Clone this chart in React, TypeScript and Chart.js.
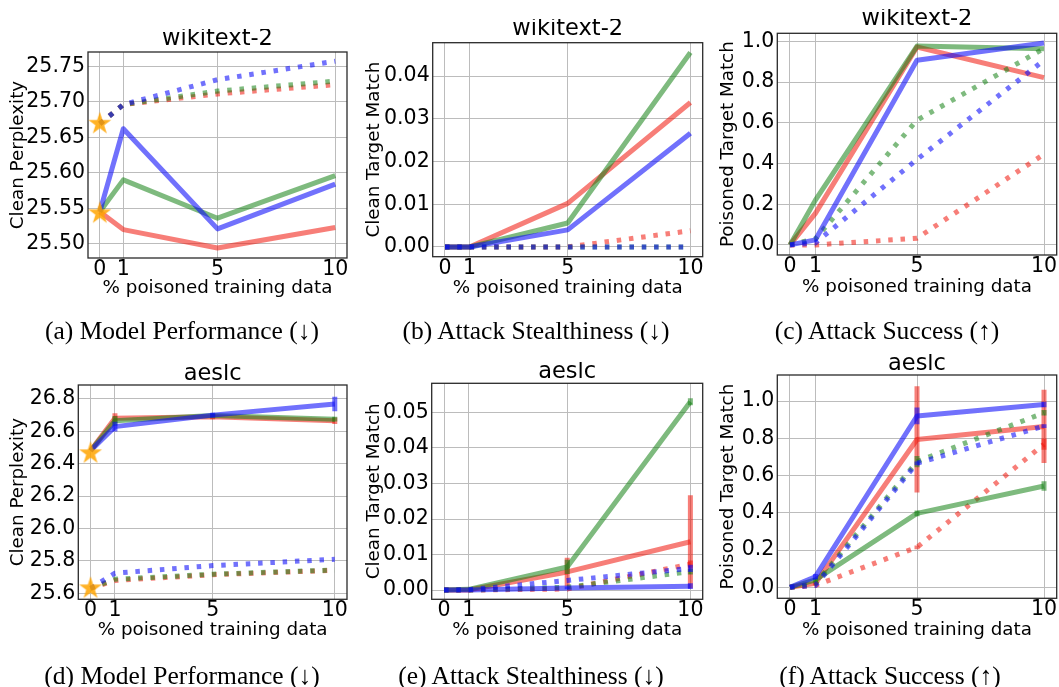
import React, { useEffect, useRef } from 'react';
import { Chart, registerables } from 'chart.js';
Chart.register(...registerables);

// ---------------- data ----------------
const X_VALUES = [0, 1, 5, 10];
const X_TICKS = [0, 1, 5, 10];
const X_LABEL = '% poisoned training data';

// (a) wikitext-2, Clean Perplexity
const A_RED = [25.545, 25.52, 25.494, 25.523];
const A_GREEN = [25.545, 25.59, 25.536, 25.596];
const A_BLUE = [25.545, 25.662, 25.521, 25.584];
const A_RED_DOT = [25.669, 25.696, 25.711, 25.724];
const A_GREEN_DOT = [25.669, 25.696, 25.715, 25.729];
const A_BLUE_DOT = [25.669, 25.696, 25.731, 25.757];
const A_STARS = [25.669, 25.543];
const A_YTICKS = [25.5, 25.55, 25.6, 25.65, 25.7, 25.75];

// (b) wikitext-2, Clean Target Match
const B_RED = [0, 0, 0.0102, 0.0338];
const B_GREEN = [0, 0, 0.0056, 0.0455];
const B_BLUE = [0, 0, 0.004, 0.0266];
const B_RED_DOT = [0, 0, 0, 0.0038];
const B_GREEN_DOT = [0, 0, 0, 0];
const B_BLUE_DOT = [0, 0, 0, 0];
const B_YTICKS = [0, 0.01, 0.02, 0.03, 0.04];

// (c) wikitext-2, Poisoned Target Match
const C_RED = [0, 0.155, 0.972, 0.822];
const C_GREEN = [0, 0.22, 0.977, 0.964];
const C_BLUE = [0, 0.025, 0.907, 0.992];
const C_RED_DOT = [0, 0, 0.033, 0.446];
const C_GREEN_DOT = [0, 0.03, 0.613, 0.965];
const C_BLUE_DOT = [0, 0.01, 0.42, 0.907];
const C_YTICKS = [0, 0.2, 0.4, 0.6, 0.8, 1.0];

// (d) aeslc, Clean Perplexity
const D_RED = [26.48, 26.681, 26.69, 26.665];
const D_GREEN = [26.48, 26.665, 26.697, 26.675];
const D_BLUE = [26.48, 26.629, 26.7, 26.769];
const D_RED_ERR = [0, 0.03, 0.015, 0.02];
const D_GREEN_ERR = [0, 0.03, 0.01, 0.015];
const D_BLUE_ERR = [0, 0.03, 0.015, 0.045];
const D_RED_DOT = [25.631, 25.679, 25.715, 25.742];
const D_GREEN_DOT = [25.631, 25.687, 25.718, 25.744];
const D_BLUE_DOT = [25.631, 25.724, 25.771, 25.81];
const D_STARS = [26.465, 25.631];
const D_YTICKS = [25.6, 25.8, 26.0, 26.2, 26.4, 26.6, 26.8];

// (e) aeslc, Clean Target Match
const E_RED = [0, 0, 0.0051, 0.0136];
const E_RED_ERR = [0, 0, 0.004, 0.0131];
const E_GREEN = [0, 0.0002, 0.0065, 0.053];
const E_GREEN_ERR = [0, 0, 0.002, 0.001];
const E_BLUE = [0, 0, 0.0006, 0.0011];
const E_BLUE_ERR = [0, 0, 0.0004, 0.0008];
const E_RED_DOT = [0, 0, 0.0003, 0.0073];
const E_RED_DOT_ERR = [0, 0, 0, 0.001];
const E_GREEN_DOT = [0, 0, 0.0008, 0.0052];
const E_GREEN_DOT_ERR = [0, 0, 0, 0.0008];
const E_BLUE_DOT = [0, 0.0001, 0.0027, 0.0061];
const E_BLUE_DOT_ERR = [0, 0, 0, 0.001];
const E_YTICKS = [0, 0.01, 0.02, 0.03, 0.04, 0.05];

// (f) aeslc, Poisoned Target Match
const F_RED = [0, 0.021, 0.794, 0.864];
const F_RED_ERR = [0, 0.01, 0.285, 0.197];
const F_GREEN = [0, 0.04, 0.397, 0.544];
const F_GREEN_ERR = [0, 0.01, 0.015, 0.025];
const F_BLUE = [0, 0.057, 0.92, 0.982];
const F_BLUE_ERR = [0, 0.015, 0.045, 0.015];
const F_RED_DOT = [0, 0.01, 0.215, 0.768];
const F_RED_DOT_ERR = [0, 0, 0.01, 0.03];
const F_GREEN_DOT = [0, 0.02, 0.675, 0.937];
const F_GREEN_DOT_ERR = [0, 0, 0.03, 0.015];
const F_BLUE_DOT = [0, 0.01, 0.666, 0.866];
const F_BLUE_DOT_ERR = [0, 0, 0.01, 0.01];
const F_YTICKS = [0, 0.2, 0.4, 0.6, 0.8, 1.0];

// ---------------- styles ----------------
const COLORS: Record<string, string> = {
  red: 'rgba(240,20,10,0.55)',
  green: 'rgba(20,130,20,0.55)',
  blue: 'rgba(10,10,250,0.58)',
};
const STAR_COLOR = 'rgba(255,165,0,0.85)';
const SANS = "'DejaVu Sans', sans-serif";
const SERIF = "'Liberation Serif', 'DejaVu Serif', serif";
const TITLE_SIZE = 22.5;
const TITLE_LH = 0.9;
const TICK_SIZE = 20.5;
const LABEL_SIZE = 18.3;
const LABEL_LH = 1.2;
const PAD_RIGHT = 12;
const LINE_W = 5;
const DOTS = [4.5, 7.8];

type Series = { color: string; dotted: boolean; values: number[]; errors?: number[] };
type Panel = {
  title: string; ylabel: string; caption: string;
  yMin: number; yMax: number; yTicks: number[]; dec: number;
  series: Series[]; stars?: number[];
  // layout (pixels in page)
  L: number; T: number; R: number; B: number;
  titleCY: number; xTitleCY: number; yTitleCX: number; capX: number; capY: number;
};

const S = (color: string, dotted: boolean, values: number[], errors?: number[]): Series => ({ color, dotted, values, errors });

const PANELS: Panel[] = [
  {
    title: 'wikitext-2', ylabel: 'Clean Perplexity', caption: '(a) Model Performance (↓)',
    yMin: 25.48, yMax: 25.77, yTicks: A_YTICKS, dec: 2, stars: A_STARS,
    series: [S('red', false, A_RED), S('red', true, A_RED_DOT), S('green', false, A_GREEN), S('green', true, A_GREEN_DOT), S('blue', false, A_BLUE), S('blue', true, A_BLUE_DOT)],
    L: 88, T: 52, R: 348, B: 258, titleCY: 38.8, xTitleCY: 288.5, yTitleCX: 18.3, capX: 181.5, capY: 331,
  },
  {
    title: 'wikitext-2', ylabel: 'Clean Target Match', caption: '(b) Attack Stealthiness (↓)',
    yMin: -0.00228, yMax: 0.0478, yTicks: B_YTICKS, dec: 2,
    series: [S('red', false, B_RED), S('red', true, B_RED_DOT), S('green', false, B_GREEN), S('green', true, B_GREEN_DOT), S('blue', false, B_BLUE), S('blue', true, B_BLUE_DOT)],
    L: 432.7, T: 42.7, R: 702.7, B: 256.7, titleCY: 29.2, xTitleCY: 288, yTitleCX: 374, capX: 535.5, capY: 331,
  },
  {
    title: 'wikitext-2', ylabel: 'Poisoned Target Match', caption: '(c) Attack Success (↑)',
    yMin: -0.0495, yMax: 1.0395, yTicks: C_YTICKS, dec: 1,
    series: [S('red', false, C_RED), S('red', true, C_RED_DOT), S('green', false, C_GREEN), S('green', true, C_GREEN_DOT), S('blue', false, C_BLUE), S('blue', true, C_BLUE_DOT)],
    L: 777.3, T: 33.3, R: 1056.7, B: 255, titleCY: 19.2, xTitleCY: 287.5, yTitleCX: 727.5, capX: 886.5, capY: 331,
  },
  {
    title: 'aeslc', ylabel: 'Clean Perplexity', caption: '(d) Model Performance (↓)',
    yMin: 25.563, yMax: 26.886, yTicks: D_YTICKS, dec: 1, stars: D_STARS,
    series: [S('red', false, D_RED, D_RED_ERR), S('red', true, D_RED_DOT), S('green', false, D_GREEN, D_GREEN_ERR), S('green', true, D_GREEN_DOT), S('blue', false, D_BLUE, D_BLUE_ERR), S('blue', true, D_BLUE_DOT)],
    L: 78.3, T: 385, R: 348.3, B: 599.3, titleCY: 373.8, xTitleCY: 629.7, yTitleCX: 18.3, capX: 181.5, capY: 676,
  },
  {
    title: 'aeslc', ylabel: 'Clean Target Match', caption: '(e) Attack Stealthiness (↓)',
    yMin: -0.0026, yMax: 0.0582, yTicks: E_YTICKS, dec: 2,
    series: [S('red', false, E_RED, E_RED_ERR), S('red', true, E_RED_DOT, E_RED_DOT_ERR), S('green', false, E_GREEN, E_GREEN_ERR), S('green', true, E_GREEN_DOT, E_GREEN_DOT_ERR), S('blue', false, E_BLUE, E_BLUE_ERR), S('blue', true, E_BLUE_DOT, E_BLUE_DOT_ERR)],
    L: 431.7, T: 383.3, R: 702.7, B: 599.3, titleCY: 372.2, xTitleCY: 630, yTitleCX: 374, capX: 531, capY: 676,
  },
  {
    title: 'aeslc', ylabel: 'Poisoned Target Match', caption: '(f) Attack Success (↑)',
    yMin: -0.059, yMax: 1.14, yTicks: F_YTICKS, dec: 1,
    series: [S('red', false, F_RED, F_RED_ERR), S('red', true, F_RED_DOT, F_RED_DOT_ERR), S('green', false, F_GREEN, F_GREEN_ERR), S('green', true, F_GREEN_DOT, F_GREEN_DOT_ERR), S('blue', false, F_BLUE, F_BLUE_ERR), S('blue', true, F_BLUE_DOT, F_BLUE_DOT_ERR)],
    L: 777.3, T: 375, R: 1056.7, B: 598.3, titleCY: 363.8, xTitleCY: 630, yTitleCX: 727.5, capX: 890, capY: 676,
  },
];

function geometry(p: Panel) {
  const lhY = LABEL_SIZE * LABEL_LH;
  const titleH = TITLE_SIZE * TITLE_LH;
  const left = Math.round(p.yTitleCX - lhY / 2);
  const top = Math.round(p.titleCY - titleH / 2);
  const right = Math.round(p.R + PAD_RIGHT);
  const bottom = Math.round(p.xTitleCY + lhY / 2);
  return {
    left, top, width: right - left, height: bottom - top,
    yAxisW: p.L - left, xAxisH: bottom - p.B,
    titlePadBottom: Math.max(0, p.T - top - titleH), padRight: right - p.R,
  };
}

function makeStar(R: number, color: string) {
  const c = document.createElement('canvas');
  const size = Math.ceil(2 * R + 2);
  c.width = size; c.height = size;
  const ctx = c.getContext('2d')!;
  const cx = size / 2, cy = size / 2, r = R * 0.381966;
  ctx.beginPath();
  for (let i = 0; i < 10; i++) {
    const ang = -Math.PI / 2 + (i * Math.PI) / 5;
    const rr = i % 2 === 0 ? R : r;
    const x = cx + rr * Math.cos(ang), y = cy + rr * Math.sin(ang);
    if (i === 0) ctx.moveTo(x, y); else ctx.lineTo(x, y);
  }
  ctx.closePath();
  ctx.fillStyle = color;
  ctx.fill();
  return c;
}

const framePlugin = {
  id: 'frame',
  beforeDatasetsDraw(chart: any) {
    const { ctx, chartArea: a } = chart;
    ctx.save();
    ctx.strokeStyle = '#2a2a2a';
    ctx.lineWidth = 1.3;
    ctx.strokeRect(a.left, a.top, a.right - a.left, a.bottom - a.top);
    ctx.restore();
  },
};

const errorBarPlugin = {
  id: 'errbars',
  afterDatasetDraw(chart: any, args: any) {
    const ds = chart.data.datasets[args.index];
    if (!ds.errors) return;
    const { ctx, chartArea: a } = chart;
    const xs = chart.scales.x, ys = chart.scales.y;
    ctx.save();
    ctx.beginPath();
    ctx.rect(a.left, a.top, a.right - a.left, a.bottom - a.top);
    ctx.clip();
    ctx.strokeStyle = ds.borderColor;
    ctx.lineWidth = LINE_W;
    ctx.setLineDash([]);
    ds.data.forEach((pt: any, i: number) => {
      const e = ds.errors[i];
      if (!e) return;
      const px = xs.getPixelForValue(pt.x);
      ctx.beginPath();
      ctx.moveTo(px, ys.getPixelForValue(pt.y - e));
      ctx.lineTo(px, ys.getPixelForValue(pt.y + e));
      ctx.stroke();
    });
    ctx.restore();
  },
};

function PanelChart({ p }: { p: Panel }) {
  const ref = useRef<HTMLCanvasElement>(null);
  const g = geometry(p);
  useEffect(() => {
    const star = makeStar(12, STAR_COLOR);
    // Chart.js paints the last dataset first, so the list is reversed to keep blue on top
    const datasets: any[] = p.series.map((s) => ({
      type: 'line',
      data: X_VALUES.map((x, i) => ({ x, y: s.values[i] })),
      borderColor: COLORS[s.color],
      borderWidth: LINE_W,
      borderDash: s.dotted ? DOTS : [],
      borderCapStyle: 'butt',
      borderJoinStyle: 'round',
      pointRadius: 0,
      pointHoverRadius: 0,
      tension: 0,
      fill: false,
      errors: s.errors,
    })).reverse();
    if (p.stars) {
      datasets.unshift({
        type: 'line',
        data: p.stars.map((y) => ({ x: 0, y })),
        showLine: false,
        pointStyle: star,
        pointRadius: 12,
        pointHoverRadius: 12,
        borderColor: STAR_COLOR,
        backgroundColor: STAR_COLOR,
      });
    }
    const gridColor = '#bcbcbc';
    const chart = new Chart(ref.current!, {
      type: 'line',
      data: { datasets },
      options: {
        animation: false,
        responsive: false,
        maintainAspectRatio: false,
        events: [],
        layout: { padding: { left: 0, top: 0, right: g.padRight, bottom: 0 } },
        plugins: {
          legend: { display: false },
          tooltip: { enabled: false },
          title: {
            display: true, text: p.title, color: '#000', fullSize: false,
            font: { family: SANS, size: TITLE_SIZE, lineHeight: TITLE_LH, weight: 'normal' },
            padding: { top: 0, bottom: g.titlePadBottom },
          },
        },
        scales: {
          x: {
            type: 'linear', min: -0.5, max: 10.5,
            afterBuildTicks: (s: any) => { s.ticks = X_TICKS.map((v) => ({ value: v })); },
            afterFit: (s: any) => { s.height = g.xAxisH; },
            grid: { color: gridColor, lineWidth: 1, drawTicks: false },
            border: { display: false },
            ticks: {
              color: '#000', padding: 1.5, maxRotation: 0, autoSkip: false,
              font: { family: SANS, size: TICK_SIZE, lineHeight: 1 },
              callback: (v: any) => String(v),
            },
            title: {
              display: true, text: X_LABEL, color: '#000', padding: 0,
              font: { family: SANS, size: LABEL_SIZE, lineHeight: LABEL_LH },
            },
          },
          y: {
            type: 'linear', min: p.yMin, max: p.yMax,
            afterBuildTicks: (s: any) => { s.ticks = p.yTicks.map((v) => ({ value: v })); },
            afterFit: (s: any) => { s.width = g.yAxisW; },
            grid: { color: gridColor, lineWidth: 1, drawTicks: false },
            border: { display: false },
            ticks: {
              color: '#000', padding: 3, autoSkip: false,
              font: { family: SANS, size: TICK_SIZE, lineHeight: 1 },
              callback: (v: any) => Number(v).toFixed(p.dec),
            },
            title: {
              display: true, text: p.ylabel, color: '#000', padding: 0,
              font: { family: SANS, size: LABEL_SIZE, lineHeight: LABEL_LH },
            },
          },
        },
      } as any,
      plugins: [framePlugin, errorBarPlugin],
    });
    return () => chart.destroy();
  }, []);
  return (
    <canvas
      ref={ref}
      width={g.width}
      height={g.height}
      style={{ position: 'absolute', left: g.left, top: g.top, width: g.width, height: g.height }}
    />
  );
}

export default function App() {
  return (
    <div style={{ position: 'fixed', left: 0, top: 0, width: 1059, height: 687, overflow: 'hidden', background: '#fff' }}>
      {PANELS.map((p, i) => (
        <PanelChart key={i} p={p} />
      ))}
      {PANELS.map((p, i) => (
        <div
          key={'c' + i}
          style={{
            position: 'absolute', left: p.capX - 200, width: 400, top: p.capY - 15, height: 30,
            lineHeight: '30px', fontSize: 25.5, fontFamily: SERIF, textAlign: 'center', color: '#000', whiteSpace: 'nowrap',
            willChange: 'transform', WebkitFontSmoothing: 'antialiased',
          } as any}
        >
          {p.caption}
        </div>
      ))}
    </div>
  );
}
